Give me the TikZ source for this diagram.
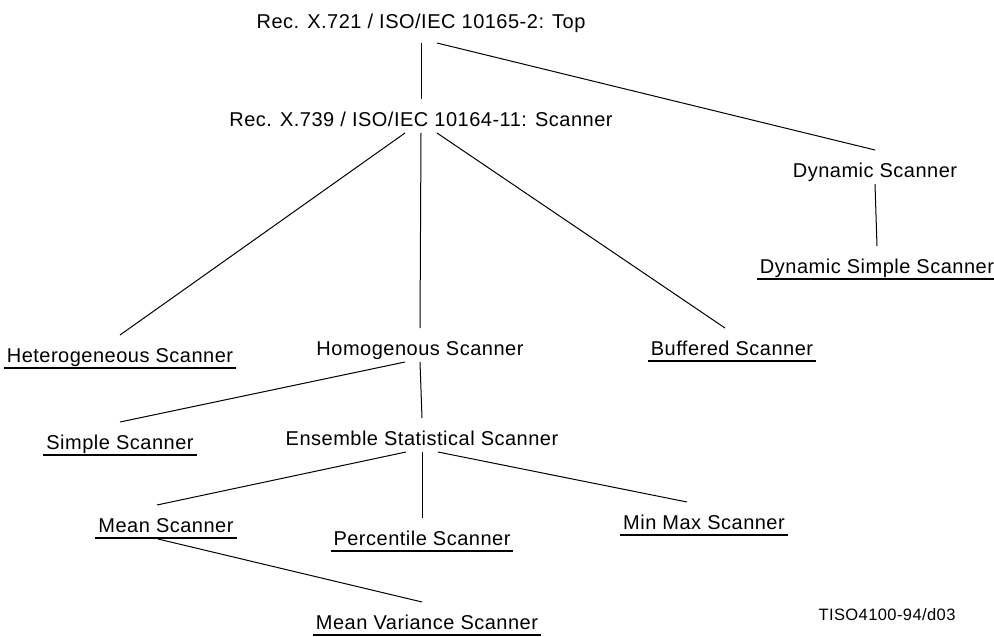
\documentclass[tikz,border=0pt]{standalone}
\usepackage{fontspec}
\setmainfont{Liberation Sans}[LetterSpace=2.5]
\usepackage{tikz}
\usetikzlibrary{calc}

\begin{document}
\begin{tikzpicture}[x=1pt,y=-1pt,
		cls/.style={anchor=base,inner sep=0pt,outer sep=3pt,text height=24pt,text depth=4pt,font=\fontsize{20}{24}\selectfont},
		ucls/.style={cls,append after command={([yshift=-6pt]\tikzlastnode.base west) edge[line width=2pt] ([yshift=-6pt]\tikzlastnode.base east)}},
		link/.style={line width=1pt}]
		\useasboundingbox (0,0) rectangle (994,637);
		\node[cls] (top) at (421,28) {Rec. X.721 / ISO/IEC 10165-2: Top};
		\node[cls] (scanner) at (421,126) {Rec. X.739 / ISO/IEC 10164-11: Scanner};
		\node[cls] (dyn) at (875,177) {Dynamic Scanner};
		\node[ucls] (dynsimple) at (877,273) {Dynamic Simple Scanner};
		\node[ucls] (hetero) at (120,362) {Heterogeneous Scanner};
		\node[cls] (homog) at (420,355) {Homogenous Scanner};
		\node[ucls] (buffered) at (732,355) {Buffered Scanner};
		\node[ucls] (simple) at (120,449) {Simple Scanner};
		\node[cls] (ensemble) at (422,445) {Ensemble Statistical Scanner};
		\node[ucls] (mean) at (166,532) {Mean Scanner};
		\node[ucls] (percentile) at (422,545) {Percentile Scanner};
		\node[ucls] (minmax) at (704,529) {Min Max Scanner};
		\node[ucls] (meanvar) at (427,629) {Mean Variance Scanner};
		\node[anchor=base,inner sep=0pt,font=\fontsize{16.5}{19}\selectfont] (tiso) at (887,620) {TISO4100-94/d03};
		\draw[link] ([yshift=-8pt]top.south) -- (scanner.north);
		\draw[link] ([xshift=16pt,yshift=-8pt]top.south) -- (dyn.north);
		\draw[link] ([xshift=-16pt]scanner.south) -- (hetero.north);
		\draw[link] (scanner.south) -- (homog.north);
		\draw[link] ([xshift=16pt]scanner.south) -- ([xshift=-7pt]buffered.north);
		\draw[link] (dyn.south) -- (dynsimple.north);
		\draw[link] ([xshift=-15pt]homog.south) -- (simple.north);
		\draw[link] (homog.south) -- (ensemble.north);
		\draw[link] ([xshift=-16pt]ensemble.south) -- ([xshift=-9pt]mean.north);
		\draw[link] (ensemble.south) -- (percentile.north);
		\draw[link] ([xshift=16pt]ensemble.south) -- ([xshift=-17pt]minmax.north);
		\draw[link] ([xshift=-8pt]mean.south) -- ([xshift=-5pt]meanvar.north);
\end{tikzpicture}
\end{document}
